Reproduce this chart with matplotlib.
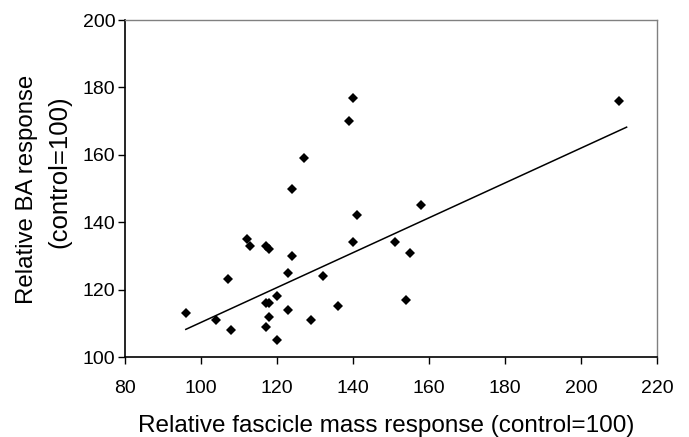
import matplotlib
matplotlib.use('Agg')
import matplotlib.pyplot as plt

plt.rcParams['font.family'] = ['Liberation Sans', 'DejaVu Sans']

# Relative fascicle mass response vs relative BA response (control=100)
fascicle_mass = [96, 104, 107, 108, 112, 113, 117, 118, 117, 118, 117, 118, 120, 120, 123, 123,
                 124, 124, 127, 129, 132, 136, 139, 140, 140, 141, 151, 154, 155, 158, 210]
ba_response = [113, 111, 123, 108, 135, 133, 133, 132, 116, 116, 109, 112, 118, 105, 125, 114,
               150, 130, 159, 111, 124, 115, 170, 177, 134, 142, 134, 117, 131, 145, 176]

# trend line end points
fit_x = [96, 212]
fit_y = [108.2, 168.2]

x_ticks = [80, 100, 120, 140, 160, 180, 200, 220]
y_ticks = [100, 120, 140, 160, 180, 200]

W, H = 689, 437
fig = plt.figure(figsize=(W / 100, H / 100), dpi=100)
ax = fig.add_axes([125 / W, 1 - 357 / H, (657 - 125) / W, (357 - 20) / H])

ax.plot(fascicle_mass, ba_response, linestyle='none', marker='D', markersize=5.5,
        color='black', markeredgewidth=0)
ax.plot(fit_x, fit_y, color='black', linewidth=1.1)

ax.set_xlim(80, 220)
ax.set_ylim(100, 200)
ax.set_xticks(x_ticks)
ax.set_yticks(y_ticks)
ax.tick_params(axis='both', direction='out', length=5, width=1, labelsize=14, color='black')
ax.tick_params(axis='x', pad=11.5)
ax.tick_params(axis='y', pad=2)

for side in ['left', 'bottom']:
    ax.spines[side].set_color('black')
    ax.spines[side].set_linewidth(1.2)
for side in ['top', 'right']:
    ax.spines[side].set_color('#808080')
    ax.spines[side].set_linewidth(1.0)

# axis titles placed by pixel position
fig.text(386 / W, 1 - 426 / H, 'Relative fascicle mass response (control=100)',
         fontsize=17.5, ha='center', va='center')
fig.text(27.5 / W, 1 - 189 / H, 'Relative BA response', fontsize=17.3,
         rotation=90, ha='center', va='center')
fig.text(59.5 / W, 1 - 172 / H, '(control=100)', fontsize=18.5,
         rotation=90, ha='center', va='center')

fig.savefig('out.png', dpi=100)
